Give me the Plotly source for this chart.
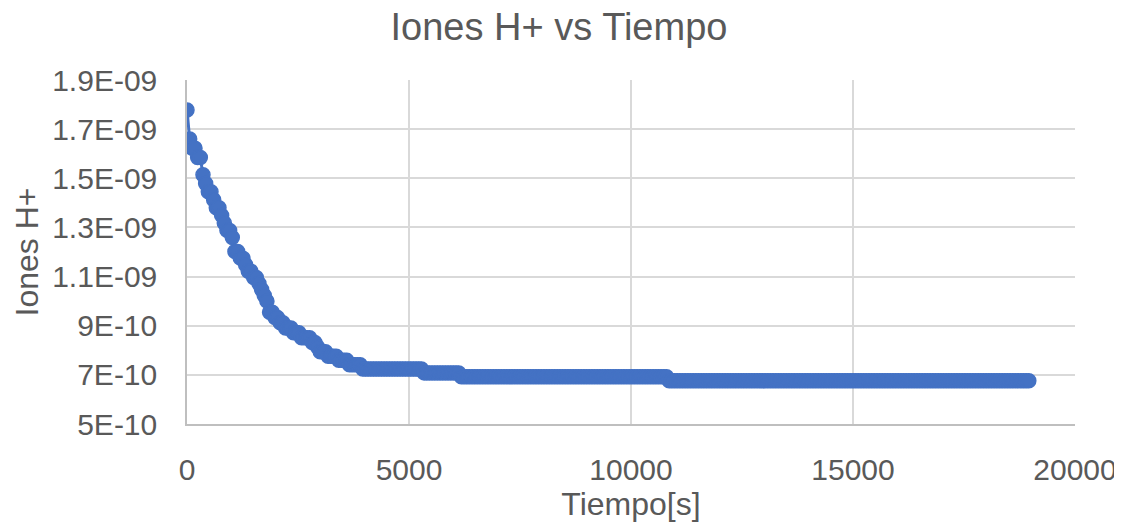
import plotly.graph_objects as go

# Sampling times (s), one reading every 60 s
tiempo = list(range(0, 18961, 60))

# H+ concentration readings (mol/L)
descenso = [
    17.78e-10, 16.60e-10, 16.22e-10, 16.22e-10, 15.85e-10, 15.85e-10, 15.14e-10, 14.79e-10,
    14.45e-10, 14.45e-10, 14.13e-10, 13.80e-10, 13.80e-10, 13.49e-10, 13.18e-10, 12.88e-10,
    12.88e-10, 12.59e-10, 12.02e-10, 12.02e-10, 11.75e-10, 11.75e-10, 11.48e-10, 11.22e-10,
    11.22e-10, 10.96e-10, 10.96e-10, 10.72e-10, 10.47e-10, 10.23e-10, 10.00e-10, 9.55e-10,
    9.55e-10, 9.33e-10, 9.33e-10, 9.12e-10, 9.12e-10, 8.91e-10, 8.91e-10, 8.91e-10,
    8.71e-10, 8.71e-10, 8.71e-10, 8.51e-10, 8.51e-10, 8.51e-10, 8.51e-10, 8.32e-10,
    8.32e-10, 8.13e-10, 7.94e-10, 7.94e-10, 7.94e-10, 7.76e-10, 7.76e-10, 7.76e-10,
    7.76e-10, 7.59e-10, 7.59e-10, 7.59e-10, 7.59e-10, 7.41e-10, 7.41e-10, 7.41e-10,
    7.41e-10, 7.41e-10,
]
meseta_1 = [7.24e-10] * 23    # 3960 s - 5280 s
meseta_2 = [7.08e-10] * 14    # 5340 s - 6120 s
meseta_3 = [6.92e-10] * 78    # 6180 s - 10800 s
meseta_4 = [6.76e-10] * 136   # 10860 s - 18960 s
iones_h = descenso + meseta_1 + meseta_2 + meseta_3 + meseta_4

y_ticks = [5e-10, 7e-10, 9e-10, 1.1e-9, 1.3e-9, 1.5e-9, 1.7e-9, 1.9e-9]
y_tick_text = ["5E-10", "7E-10", "9E-10", "1.1E-09", "1.3E-09", "1.5E-09", "1.7E-09", "1.9E-09"]
x_ticks = [0, 5000, 10000, 15000, 20000]

azul = "#4472C4"
gris_txt = "#595959"
FONT = "Liberation Sans, Arial, sans-serif"

W, H = 1114, 515

fig = go.Figure()
fig.add_trace(go.Scatter(
    x=tiempo, y=iones_h, mode="lines+markers",
    line=dict(color=azul, width=3),
    marker=dict(color=azul, size=14, line=dict(color=azul, width=1.5)),
    showlegend=False,
))

fig.update_layout(
    width=W, height=H,
    margin=dict(l=179, r=47, t=72, b=99, autoexpand=False),
    paper_bgcolor="white", plot_bgcolor="white",
    font=dict(family=FONT, color=gris_txt),
    title=dict(text="Iones H+ vs Tiempo", x=551 / W, xref="container", xanchor="center",
               y=1 - 19 / H, yref="container", yanchor="middle",
               font=dict(size=38, color=gris_txt, family=FONT)),
)

fig.update_xaxes(
    range=[0, 20000], tickvals=x_ticks, ticktext=[str(v) for v in x_ticks],
    showgrid=True, gridcolor="#d9d9d9", gridwidth=1.5,
    showline=True, linecolor="#bfbfbf", linewidth=1.5,
    zeroline=False, ticks="", ticklabelstandoff=18, automargin=False,
    ticklabeloverflow="allow",
    tickfont=dict(size=30, color=gris_txt, family=FONT),
    title=dict(text="Tiempo[s]", font=dict(size=32, color=gris_txt, family=FONT), standoff=6),
)
fig.update_yaxes(
    range=[5e-10, 1.9e-9], tickvals=y_ticks, ticktext=y_tick_text,
    showgrid=True, gridcolor="#d9d9d9", gridwidth=1.5,
    showline=True, linecolor="#bfbfbf", linewidth=1.5,
    zeroline=False, ticks="", ticklabelstandoff=22, automargin=False,
    tickfont=dict(size=30, color=gris_txt, family=FONT),
    title=dict(text="Iones H+", font=dict(size=32, color=gris_txt, family=FONT), standoff=4),
)

fig.write_html("out.html")
